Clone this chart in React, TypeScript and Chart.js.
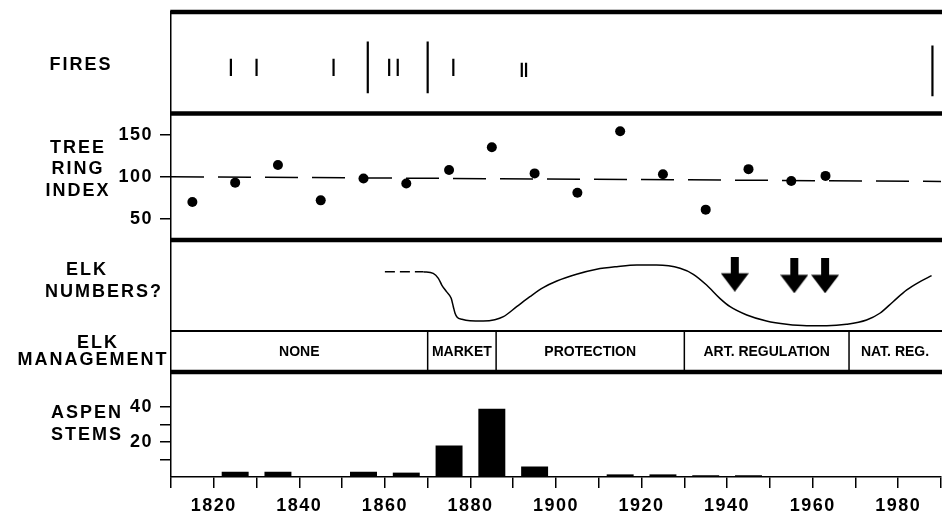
import { useEffect, useRef } from 'react';
import { Chart, registerables } from 'chart.js';

Chart.register(...registerables);

// ---------- data ----------
const xTickYears = [1810, 1820, 1830, 1840, 1850, 1860, 1870, 1880, 1890, 1900, 1910, 1920, 1930, 1940, 1950, 1960, 1970, 1980, 1990];
const xLabelYears = [1820, 1840, 1860, 1880, 1900, 1920, 1940, 1960, 1980];

const fireYears = [1824, 1830, 1848, 1856, 1861, 1863, 1870, 1876, 1892, 1893, 1988];
const fireLow = [3.7, 3.7, 3.7, 2.0, 3.7, 3.7, 2.0, 3.7, 3.6, 3.6, 1.7];
const fireHigh = [5.4, 5.4, 5.4, 7.1, 5.4, 5.4, 7.1, 5.4, 5.0, 5.0, 6.7];

const treeRingYears = [1815, 1825, 1835, 1845, 1855, 1865, 1875, 1885, 1895, 1905, 1915, 1925, 1935, 1945, 1955, 1963];
const treeRingIndex = [70, 93, 114, 72, 98, 92, 108, 135, 104, 81, 154, 103, 61, 109, 95, 101];
const treeRingTicks = [50, 100, 150];
const treeRingMeanYears = [1810, 1990];
const treeRingMean = [100, 94.5];

const elkDashedYears = [1860, 1869];
const elkDashedNumbers = [65.2, 65.2];
const elkYears = [1869, 1871.3, 1872.5, 1873.3, 1874.4, 1875.5, 1876.0, 1876.4, 1876.9, 1878.0, 1879.9, 1883.0, 1885.7, 1887.7, 1890.8, 1893.9, 1897.0, 1900.2, 1904.8, 1909.5, 1914.2, 1918.9, 1923.5, 1929.0, 1932.1, 1935.2, 1938.3, 1940.7, 1944.6, 1949.2, 1953.9, 1958.6, 1963.3, 1967.9, 1972.6, 1975.7, 1978.8, 1982.0, 1985.1, 1987.8];
const elkNumbers = [65.2, 63.4, 57.9, 50.5, 43.2, 35.9, 26.7, 19.5, 15.1, 12.9, 11.3, 11.0, 12.4, 15.7, 26.7, 37.7, 47.6, 54.9, 62.3, 67.8, 70.7, 72.5, 72.5, 68.9, 62.3, 50.5, 35.9, 26.7, 17.6, 11.0, 7.4, 5.8, 5.8, 7.4, 12.1, 19.5, 32.2, 45.1, 54.2, 60.8];

const cullYears = [1941.8, 1955.7, 1962.9];
const cullLevels = [62.4, 60.7, 60.7];

const mgmtBounds = [1810, 1870, 1886, 1930, 1968.5, 1990];
const mgmtLabels = ['NONE', 'MARKET', 'PROTECTION', 'ART. REGULATION', 'NAT. REG.'];

const aspenYears = [1815, 1825, 1835, 1845, 1855, 1865, 1875, 1885, 1895, 1905, 1915, 1925, 1935, 1945, 1955, 1965, 1975, 1985];
const aspenStems = [0, 3, 3, 0, 3, 2.5, 18, 39, 6, 0, 1.5, 1.5, 1, 1, 0, 0, 0, 0];
const aspenTicks = [10, 20, 30, 40];
const aspenTickLabels = ['', '20', '', '40'];

// ---------- helpers ----------
const FONT = "'Liberation Sans', Arial, Helvetica, sans-serif";

function makeArrow(): HTMLCanvasElement {
  const c = document.createElement('canvas');
  c.width = 28;
  c.height = 35;
  const g = c.getContext('2d')!;
  g.fillStyle = '#000';
  g.fillRect(10, 0, 8, 17);
  g.beginPath();
  g.moveTo(0, 16.5);
  g.lineTo(28, 16.5);
  g.lineTo(14, 35);
  g.closePath();
  g.fill();
  return c;
}

const fitY = (s: any) => {
  s.width = 171;
  s.paddingTop = 0;
  s.paddingBottom = 0;
  s.paddingLeft = 0;
  s.paddingRight = 0;
};

function panelAxis(weight: number, stackWeight: number, min: number, max: number) {
  return {
    type: 'linear',
    position: 'left',
    stack: 'panels',
    stackWeight,
    weight,
    min,
    max,
    offset: false,
    border: { display: true, color: '#000', width: 1.5 },
    grid: { drawOnChartArea: false, drawTicks: false, color: '#000', lineWidth: 1.5, tickLength: 11 },
    ticks: { display: false },
    afterFit: fitY,
  } as any;
}

const leftLabels: { text: string; x: number; y: number }[] = [
  { text: 'FIRES', x: 80, y: 70 },
  { text: 'TREE', x: 77, y: 152.7 },
  { text: 'RING', x: 77, y: 174.4 },
  { text: 'INDEX', x: 77, y: 196 },
  { text: 'ELK', x: 86, y: 275 },
  { text: 'NUMBERS?', x: 103, y: 296.7 },
  { text: 'ELK', x: 97, y: 347.7 },
  { text: 'MANAGEMENT', x: 92, y: 365 },
  { text: 'ASPEN', x: 86, y: 418.3 },
  { text: 'STEMS', x: 86, y: 440 },
];

const panelPlugin = {
  id: 'panels',
  beforeDraw(chart: any) {
    (chart.ctx as any).letterSpacing = '1.5px';
  },
  afterDraw(chart: any) {
    const ctx = chart.ctx as CanvasRenderingContext2D & { letterSpacing: string };
    const s = chart.scales;
    const left = chart.chartArea.left;
    const right = chart.width;
    ctx.save();
    ctx.letterSpacing = '0px';
    ctx.strokeStyle = '#000';
    ctx.fillStyle = '#000';
    const hline = (y: number, w: number) => {
      ctx.lineWidth = w;
      ctx.beginPath();
      ctx.moveTo(left - 0.75, y);
      ctx.lineTo(right, y);
      ctx.stroke();
    };
    hline(s.yFires.top, 4.5);
    hline(s.yTree.top, 4.5);
    hline(s.yElk.top, 4.5);
    hline(s.yMgmt.top, 2);
    hline(s.yMgmt.bottom, 4.5);

    // management boxes
    ctx.lineWidth = 1.5;
    for (let i = 1; i < mgmtBounds.length - 1; i++) {
      const x = s.x.getPixelForValue(mgmtBounds[i]);
      ctx.beginPath();
      ctx.moveTo(x, s.yMgmt.top);
      ctx.lineTo(x, s.yMgmt.bottom);
      ctx.stroke();
    }
    ctx.font = `bold 14px ${FONT}`;
    ctx.textAlign = 'center';
    ctx.textBaseline = 'middle';
    const my = (s.yMgmt.top + s.yMgmt.bottom) / 2 + 0.5;
    for (let i = 0; i < mgmtLabels.length; i++) {
      const xc = s.x.getPixelForValue((mgmtBounds[i] + mgmtBounds[i + 1]) / 2);
      ctx.fillText(mgmtLabels[i], xc, my);
    }

    // panel titles
    ctx.letterSpacing = '2px';
    ctx.font = `bold 18px ${FONT}`;
    ctx.textBaseline = 'alphabetic';
    for (const l of leftLabels) ctx.fillText(l.text, l.x + 1, l.y);
    ctx.restore();
    (ctx as any).letterSpacing = '0px';
  },
};

export default function App() {
  const ref = useRef<HTMLCanvasElement>(null);
  useEffect(() => {
    Chart.defaults.font.family = FONT;
    const arrow = makeArrow();
    const tickFont = { size: 18, weight: 'bold' as const, family: FONT };
    const chart = new Chart(ref.current!, {
      type: 'scatter',
      data: {
        datasets: [
          {
            type: 'line',
            label: 'Fires',
            xAxisID: 'x',
            yAxisID: 'yFires',
            data: fireYears.flatMap((yr, i) => [
              { x: yr, y: fireLow[i] },
              { x: yr, y: fireHigh[i] },
              { x: yr, y: null },
            ]) as any,
            borderColor: '#000',
            borderWidth: 2.2,
            pointRadius: 0,
            spanGaps: false,
          },
          {
            type: 'line',
            label: 'Tree ring mean',
            yAxisID: 'yTree',
            data: treeRingMeanYears.map((x, i) => ({ x, y: treeRingMean[i] })),
            borderColor: '#000',
            borderWidth: 1.5,
            borderDash: [33, 14],
            pointRadius: 0,
          },
          {
            type: 'scatter',
            label: 'Tree ring index',
            yAxisID: 'yTree',
            data: treeRingYears.map((x, i) => ({ x, y: treeRingIndex[i] })),
            backgroundColor: '#000',
            borderColor: '#000',
            borderWidth: 0,
            pointRadius: 5,
          },
          {
            type: 'line',
            label: 'Elk (uncertain)',
            yAxisID: 'yElk',
            data: elkDashedYears.map((x, i) => ({ x, y: elkDashedNumbers[i] })),
            borderColor: '#000',
            borderWidth: 1.5,
            borderDash: [10, 5],
            pointRadius: 0,
          },
          {
            type: 'line',
            label: 'Elk numbers',
            yAxisID: 'yElk',
            data: elkYears.map((x, i) => ({ x, y: elkNumbers[i] })),
            borderColor: '#000',
            borderWidth: 1.5,
            cubicInterpolationMode: 'monotone',
            pointRadius: 0,
          },
          {
            type: 'scatter',
            label: 'Culls',
            yAxisID: 'yElk',
            data: cullYears.map((x, i) => ({ x, y: cullLevels[i] })),
            pointStyle: arrow as any,
            pointRadius: 14,
          },
          {
            type: 'bar',
            label: 'Aspen stems',
            yAxisID: 'yAspen',
            data: aspenYears.map((x, i) => ({ x, y: aspenStems[i] })),
            backgroundColor: '#000',
            borderWidth: 0,
            categoryPercentage: 1,
            barPercentage: 0.63,
          } as any,
        ],
      },
      options: {
        animation: false,
        responsive: false,
        devicePixelRatio: 1,
        events: [],
        layout: { autoPadding: false, padding: { left: 0, top: 12, right: 1, bottom: 0 } },
        plugins: { legend: { display: false }, tooltip: { enabled: false } },
        scales: {
          x: {
            type: 'linear',
            position: 'bottom',
            min: 1810,
            max: 1990,
            offset: false,
            afterBuildTicks: (s: any) => { s.ticks = xTickYears.map((v) => ({ value: v })); },
            afterFit: (s: any) => {
              s.height = 41;
              s.paddingLeft = 0;
              s.paddingRight = 0;
              s.paddingTop = 0;
              s.paddingBottom = 0;
            },
            ticks: {
              autoSkip: false,
              maxRotation: 0,
              minRotation: 0,
              padding: 7,
              color: '#000',
              font: tickFont,
              callback: (v: any) => (xLabelYears.includes(Number(v)) ? String(v) : ''),
            },
            grid: { offset: false, drawOnChartArea: false, drawTicks: true, tickLength: 11, color: '#000', lineWidth: 1.5 },
            border: { display: true, color: '#000', width: 1.5 },
          } as any,
          yAspen: {
            ...panelAxis(1, 105, 0, 60),
            afterBuildTicks: (s: any) => { s.ticks = aspenTicks.map((v) => ({ value: v })); },
            grid: { drawOnChartArea: false, drawTicks: true, color: '#000', lineWidth: 1.5, tickLength: 11 },
            ticks: {
              display: true,
              autoSkip: false,
              padding: 7,
              color: '#000',
              font: tickFont,
              callback: (v: any) => aspenTickLabels[aspenTicks.indexOf(Number(v))] ?? '',
            },
          },
          yMgmt: panelAxis(2, 41, 0, 1),
          yElk: panelAxis(3, 91, 0, 100),
          yTree: {
            ...panelAxis(4, 126.5, 25, 175),
            afterBuildTicks: (s: any) => { s.ticks = treeRingTicks.map((v) => ({ value: v })); },
            grid: { drawOnChartArea: false, drawTicks: true, color: '#000', lineWidth: 1.5, tickLength: 11 },
            ticks: { display: true, autoSkip: false, padding: 7, color: '#000', font: tickFont, callback: (v: any) => String(v) },
          },
          yFires: panelAxis(5, 101.5, 0, 10),
        },
      } as any,
      plugins: [panelPlugin],
    });
    return () => chart.destroy();
  }, []);
  return (
    <div style={{ position: 'absolute', left: 0, top: 0, width: 942, height: 518, background: '#fff' }}>
      <canvas ref={ref} width={942} height={518} style={{ display: 'block' }} />
    </div>
  );
}
